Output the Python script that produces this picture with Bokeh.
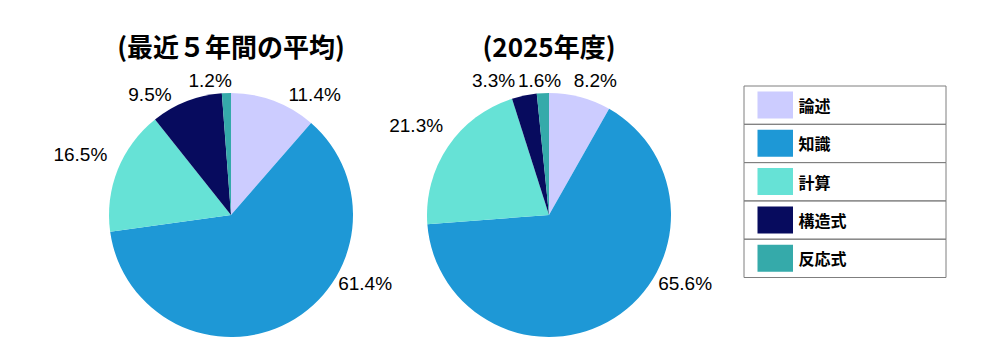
import numpy as np
from bokeh.plotting import figure
from bokeh.models import Range1d, ColumnDataSource
from bokeh.core.properties import value
from bokeh.embed import file_html
from bokeh.resources import INLINE

# ---- data ----
categories = ["論述", "知識", "計算", "構造式", "反応式"]
colors = ["#CCCCFF", "#1E98D6", "#66E2D6", "#070B5E", "#35AAAA"]
avg5 = [11.4, 61.4, 16.5, 9.5, 1.2]
y2025 = [8.2, 65.6, 21.3, 3.3, 1.6]
titles = ["(最近５年間の平均)", "(2025年度)"]

# ---- layout ----
W, H = 984, 345
def px(x):
    return np.asarray(x, dtype=float)
def py(y):
    return H - np.asarray(y, dtype=float)

p = figure(width=W, height=H, x_range=Range1d(0, W), y_range=Range1d(0, H),
           output_backend="svg", toolbar_location=None, min_border=0,
           x_axis_location=None, y_axis_location=None)
p.grid.visible = False
p.outline_line_color = None
p.background_fill_color = "white"
p.border_fill_color = "white"

R = 122
centers = [(230.5, 214.5), (548.5, 214.5)]
LABEL_FONT = "'Liberation Sans', Arial, sans-serif"
CJK = "'Noto Sans CJK JP', sans-serif"
lab_h = 16
ymax_lab = 283

for vals, (cx, cy), title in zip([avg5, y2025], centers, titles):
    v = np.array(vals, dtype=float)
    frac = v / v.sum()
    cum = np.concatenate([[0], np.cumsum(frac)])
    start = np.pi / 2 - 2 * np.pi * cum[:-1]
    end = np.pi / 2 - 2 * np.pi * cum[1:]
    src = ColumnDataSource(dict(start=start, end=end, color=colors,
                                x=px([cx] * len(v)), y=py([cy] * len(v))))
    p.wedge(x="x", y="y", radius=R, radius_units="screen", start_angle="start",
            end_angle="end", direction="clock", fill_color="color",
            line_color=None, source=src)

    # labels (placed outside each slice, kept inside a vertical band)
    texts = [f"{x:.1f}%" for x in v]
    widths = np.array([10.5 * sum(ch.isdigit() for ch in t) + 5 + 17 for t in texts])
    theta = 2 * np.pi * (cum[:-1] + frac / 2)
    s, c = np.sin(theta), np.cos(theta)
    gap = 5 + 8 * np.abs(s)
    d = R + gap + np.abs(s) * widths / 2 + np.abs(c) * lab_h / 2
    lx = cx + d * s
    ly = cy - d * c
    ymin_lab = np.where(np.abs(s) < 0.3, 80, 94)
    for i in range(len(v)):
        if ly[i] > ymax_lab or ly[i] < ymin_lab[i]:
            ly[i] = min(max(ly[i], ymin_lab[i]), ymax_lab)
            dy = ly[i] - cy
            lx[i] = cx + np.sign(s[i]) * np.sqrt(max(d[i] ** 2 - dy ** 2, 0))
    # simple overlap resolution
    for _ in range(10):
        for i in range(len(v)):
            for j in range(i + 1, len(v)):
                if abs(ly[i] - ly[j]) < lab_h:
                    need = (widths[i] + widths[j]) / 2 + 3
                    dx = lx[j] - lx[i]
                    if abs(dx) < need:
                        push = (need - abs(dx)) / 2
                        sg = 1 if dx >= 0 else -1
                        lx[i] -= sg * push
                        lx[j] += sg * push
    p.text(x=px(lx), y=py(ly), text=texts, text_font=value(LABEL_FONT),
           text_font_size="19px", text_align="center", text_baseline="middle",
           text_color="#000000")

    p.text(x=px([cx]), y=py([45]), text=[title], text_font=value(CJK),
           text_font_size="26px", text_font_style="bold", text_align="center",
           text_baseline="middle", text_color="#000000")

# ---- legend ----
n = len(categories)
lg_x0, lg_x1, lg_y0, rowh = 743.5, 945.5, 85.5, 38.3
row_top = lg_y0 + rowh * np.arange(n)
p.quad(left=px([lg_x0] * n), right=px([lg_x1] * n), top=py(row_top),
       bottom=py(row_top + rowh), fill_color=None, line_color="#7f7f7f",
       line_width=1)
p.quad(left=px([757] * n), right=px([792.5] * n), top=py(row_top + 5.5),
       bottom=py(row_top + 32.5), fill_color=colors, line_color=None)
p.text(x=px([798] * n), y=py(row_top + rowh / 2), text=categories,
       text_font=value(CJK), text_font_size="16px", text_font_style="bold",
       text_align="left", text_baseline="middle", text_color="#000000")

open("out.html", "w").write(file_html(p, INLINE))
